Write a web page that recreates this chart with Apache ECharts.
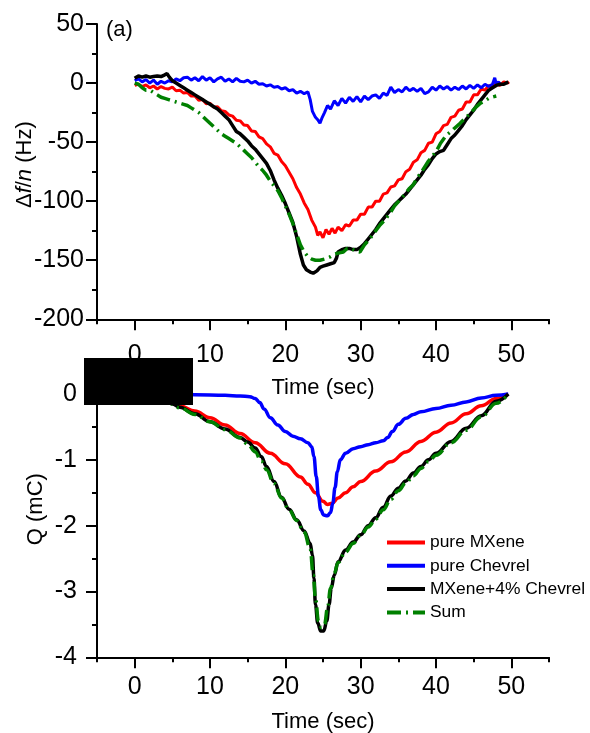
<!DOCTYPE html>
<html>
<head>
<meta charset="utf-8">
<script src="https://cdn.jsdelivr.net/npm/echarts@6/dist/echarts.min.js"></script>
<style>
  html, body { margin: 0; padding: 0; background: #fff; }
  #chart { width: 590px; height: 733px; }
</style>
</head>
<body>
<div id="chart"></div>
<script>
// ---- Panel (a): frequency shift Δf/n (Hz) vs time (s) ----
const freqMXene = [
  [0,-2],[0.5,-1],[1,-3],[1.5,-1.5],[2,-4],[2.5,-2.5],[3,-5],[3.5,-3],[4,-4.5],[4.5,-5],
  [5,-3.5],[5.5,-6.5],[6,-6],[6.5,-8.5],[7,-8],[7.5,-11],[8,-11],[8.5,-14.5],[9,-14],[9.5,-17.5],
  [10,-17],[10.5,-20.5],[11,-20],[11.5,-23.5],[12,-24],[12.5,-27],[13,-28],[13.5,-31.5],[14,-32],[14.5,-35.5],
  [15,-36],[15.5,-40.5],[16,-41],[16.5,-45.5],[17,-47],[17.5,-51.5],[18,-54],[18.5,-59.5],[19,-61],[19.5,-66.5],
  [20,-70],[20.5,-75.5],[21,-81],[21.5,-88.5],[22,-94],[22.5,-101.5],[23,-107],[23.5,-116],[24,-122],[24.3,-129],
  [24.6,-126],[25,-131],[25.4,-124],[25.8,-128],[26.2,-123],[26.6,-127],[27,-122],[27.5,-125],[28,-120],[28.5,-121],
  [29,-116],[29.5,-116],[30,-111],[30.5,-111],[31,-105],[31.5,-105],[32,-100],[32.5,-100],[33,-94],[33.5,-93],
  [34,-88],[34.5,-87],[35,-82],[35.5,-81],[36,-75],[36.5,-73],[37,-67],[37.5,-65],[38,-59],[38.5,-57],
  [39,-51],[39.5,-50],[40,-43],[40.5,-41],[41,-36],[41.5,-35],[42,-29],[42.5,-28],[43,-23],[43.5,-22],
  [44,-16],[44.5,-16],[45,-10],[45.5,-10],[46,-5],[46.5,-6],[47,-2],[47.5,-4],[48,0],[48.5,-2],
  [49,1],[49.5,0],[49.7,1]
];
const freqChevrel = [
  [0,2],[0.5,3.5],[1,1],[1.5,3],[2,0],[2.5,2.5],[3,-1],[3.5,1.5],[4,0],[4.5,2],
  [5,1],[5.5,3.5],[6,2],[6.5,4.5],[7,5],[7.5,2.5],[8,4.5],[8.5,2],[9,5.5],[9.5,2.5],
  [10,4.5],[10.5,1],[11,3.5],[11.5,5],[12,1.5],[12.5,3.5],[13,1],[13.5,4],[14,1.5],[14.5,1],
  [15,2.5],[15.5,0],[16,1.5],[16.5,-1],[17,-0.5],[17.5,-2.5],[18,-1.5],[18.5,-3.5],[19,-3],[19.5,-5],
  [20,-4],[20.5,-6.5],[21,-5.5],[21.5,-8.5],[22,-7],[22.5,-9],[23,-7.5],[23.3,-14],[23.6,-24],[24,-29],
  [24.3,-31],[24.6,-34],[24.9,-29],[25.2,-25],[25.6,-19],[26,-22],[26.5,-15],[27,-19],[27.5,-13],[28,-17],
  [28.5,-12],[29,-15.5],[29.5,-11.5],[30,-16],[30.5,-11],[31,-14],[31.5,-11],[32,-10],[32.5,-13],[33,-8.5],
  [33.5,-10.5],[34,-3.5],[34.5,-8],[35,-5.5],[35.5,-7.5],[36,-3.5],[36.5,-6.5],[37,-4.5],[37.5,-7],[38,-4.5],
  [38.5,-9],[39,-7.5],[39.5,-3.5],[40,-6],[40.5,-2.5],[41,-5],[41.5,-3],[42,-6],[42.5,-3.5],[43,-5.5],
  [43.5,-2.5],[44,-5],[44.5,-2],[45,-4.5],[45.5,-1.5],[46,-4],[46.5,-1],[47,-3],[47.5,-1],[47.8,4.5],
  [48,-1],[48.3,1],[48.5,-0.5]
];
const freqComposite = [
  [0,4],[0.5,6],[1,5],[1.5,6],[2,5],[2.5,5.5],[3,6],[3.5,5.5],[4,7],[4.3,8],
  [4.6,5],[5,2],[5.5,0],[6,-2],[6.5,-4],[7,-6],[7.5,-8],[8,-10],[8.5,-12],[9,-14],
  [9.5,-16],[10,-18],[10.5,-20],[11,-22],[11.5,-25],[12,-28],[12.5,-31],[13,-36],[13.5,-41],[14,-43],
  [14.5,-46],[15,-49],[15.5,-53],[16,-56],[16.5,-60],[17,-64],[17.5,-68],[18,-74],[18.5,-82],[19,-89],
  [19.5,-95],[20,-102],[20.5,-110],[21,-118],[21.5,-130],[22,-145],[22.4,-154],[22.8,-158],[23.3,-160],[23.7,-161],
  [24.2,-159],[24.6,-156],[25,-155],[25.5,-154],[26,-153],[26.5,-152],[26.8,-148],[27,-143],[27.5,-141],[28,-140],
  [28.5,-140],[29,-141],[29.5,-141],[30,-139],[30.5,-136],[31,-132],[31.5,-128],[32,-124],[32.5,-119],[33,-115],
  [33.5,-111],[34,-107],[34.5,-103],[35,-100],[35.5,-97],[36,-94],[36.5,-90],[37,-86],[37.5,-82],[38,-78],
  [38.5,-73],[39,-69],[39.5,-64],[40,-60],[40.5,-58],[41,-57],[41.5,-52],[42,-47],[42.5,-44],[43,-40],
  [43.5,-36],[44,-31],[44.5,-27],[45,-23],[45.5,-18],[46,-14],[46.5,-10],[47,-6],[47.5,-4],[48,-2],
  [48.5,-1],[49,-1],[49.6,1]
];
const freqSum = [
  [0,0],[0.5,-1],[1,-4],[1.5,-6],[2,-6],[2.5,-8],[3,-10],[3.5,-12],[4,-13],[4.5,-14],
  [5,-15],[5.5,-16],[6,-17],[6.5,-18],[7,-19],[7.5,-21],[8,-23],[8.5,-25],[9,-28],[9.5,-31],
  [10,-34],[10.5,-37],[11,-40],[11.5,-43],[12,-45],[12.5,-47],[13,-49],[13.5,-51],[14,-54],[14.5,-57],
  [15,-60],[15.5,-63],[16,-67],[16.5,-71],[17,-74],[17.5,-78],[18,-83],[18.5,-87],[19,-91],[19.5,-97],
  [20,-104],[20.5,-111],[21,-119],[21.5,-128],[22,-137],[22.5,-143],[23,-147],[23.5,-149],[24,-150],[24.6,-150],
  [25.2,-149],[26,-147],[26.5,-145],[27,-144],[27.7,-143],[28.2,-140],[28.7,-140],[29.3,-142],[29.9,-143],[30.5,-137],
  [31.2,-132],[32,-125],[32.6,-120],[33.2,-116],[33.9,-110],[34.5,-104],[35.2,-99],[36,-93],[36.5,-89],[37,-86],
  [37.5,-80],[37.9,-77],[38.5,-71],[39,-66],[39.5,-62],[40.1,-57],[40.6,-51],[41.4,-44],[42,-41],[42.5,-38],
  [43.2,-34],[44,-29],[44.5,-26],[45.2,-21],[45.9,-17],[46.5,-15],[47,-13],[47.4,-12],[48,-11]
];

// ---- Panel (b): charge Q (mC) vs time (s) ----
const chargeMXene = [
  [0,0],[2,-0.04],[4,-0.1],[5,-0.14],[6,-0.18],[8,-0.26],[10,-0.36],[12,-0.47],[14,-0.6],[16,-0.74],
  [18,-0.9],[20,-1.06],[22,-1.26],[23,-1.37],[24,-1.5],[25,-1.63],[25.6,-1.68],[26.2,-1.66],[27,-1.58],[28,-1.5],
  [29,-1.41],[30,-1.33],[32,-1.17],[34,-1.03],[36,-0.88],[38,-0.72],[40,-0.58],[42,-0.44],[44,-0.3],[46,-0.18],
  [48,-0.07],[49.5,0]
];
const chargeChevrel = [
  [0,0],[4,0],[8,-0.01],[12,-0.02],[14,-0.03],[15.3,-0.04],[16,-0.07],[16.6,-0.13],[17.2,-0.23],[18,-0.36],
  [19,-0.47],[20,-0.57],[21,-0.64],[22,-0.68],[23,-0.74],[23.5,-0.8],[23.8,-0.95],[24.1,-1.25],[24.4,-1.56],[24.7,-1.76],
  [25.1,-1.84],[25.6,-1.85],[26,-1.8],[26.3,-1.66],[26.6,-1.42],[26.9,-1.18],[27.3,-1.0],[28,-0.9],[29,-0.83],[30,-0.8],
  [31,-0.77],[32,-0.74],[33,-0.71],[33.6,-0.66],[34.2,-0.57],[35,-0.46],[36,-0.37],[37,-0.31],[38,-0.27],[40,-0.22],
  [42,-0.17],[44,-0.12],[46,-0.06],[48,-0.02],[49.6,0]
];
const chargeComposite = [
  [0,0],[2,-0.04],[4,-0.1],[5,-0.15],[6,-0.2],[8,-0.3],[10,-0.42],[12,-0.53],[14,-0.66],[15,-0.73],
  [16,-0.82],[16.8,-0.95],[17.5,-1.1],[18.5,-1.33],[19.5,-1.57],[20.5,-1.75],[21.5,-1.91],[22.5,-2.08],[23.3,-2.27],[23.6,-2.45],
  [23.8,-2.8],[24,-3.2],[24.3,-3.48],[24.7,-3.6],[25.1,-3.6],[25.5,-3.45],[25.8,-3.2],[26.1,-2.95],[26.5,-2.75],[27,-2.55],
  [28,-2.37],[29,-2.25],[30,-2.14],[31,-2.0],[32,-1.88],[33,-1.72],[34,-1.55],[35,-1.43],[36,-1.32],[37,-1.2],
  [38,-1.1],[39,-1.0],[40,-0.9],[42,-0.72],[44,-0.52],[46,-0.33],[48,-0.11],[49.6,0]
];
const chargeSum = [
  [0,0],[2,-0.04],[4,-0.1],[6,-0.21],[8,-0.31],[10,-0.42],[12,-0.54],[14,-0.67],[15,-0.76],[16,-0.88],
  [16.8,-1.02],[17.5,-1.15],[18.5,-1.36],[19.5,-1.58],[20.5,-1.76],[21.5,-1.92],[22.5,-2.1],[23.3,-2.35],[23.7,-2.75],[24,-3.1],
  [24.4,-3.45],[24.8,-3.55],[25.2,-3.5],[25.6,-3.25],[26,-2.95],[26.5,-2.72],[27,-2.56],[28,-2.4],[29,-2.27],[30,-2.15],
  [31,-2.02],[32,-1.9],[33,-1.76],[34,-1.6],[35,-1.47],[36,-1.35],[37,-1.24],[38,-1.13],[39,-1.03],[40,-0.93],
  [42,-0.74],[44,-0.55],[46,-0.35],[48,-0.14],[49.6,0]
];

// Series names and tick positions
const seriesNames = ['pure MXene', 'pure Chevrel', 'MXene+4% Chevrel', 'Sum'];
const timeMajorTicks = [0, 10, 20, 30, 40, 50];
const timeMinorTicks = [-5, 5, 15, 25, 35, 45, 55];
const chargeMajorTicks = [0, -1, -2, -3, -4];
const chargeMinorTicks = [0.5, -0.5, -1.5, -2.5, -3.5];

const FONT = '"Liberation Sans", Arial, sans-serif';
const INK = '#000';
const colors = ['#ff0000', '#0000ff', '#000000', '#008000'];
const sumDash = [14, 5, 2, 5];
const TICK_FONT = 25;
const TITLE_FONT = 22;

const axisLine = { show: true, onZero: false, lineStyle: { color: INK, width: 2 } };
const hiddenLine = { show: false, onZero: false };

function timeAxes(gridIndex, labelMargin, nameGap) {
  return [
    {
      type: 'value', gridIndex, min: -5, max: 55, position: 'bottom',
      axisLine,
      axisTick: { show: true, customValues: timeMajorTicks, length: 11, lineStyle: { color: INK, width: 2 } },
      axisLabel: { show: true, customValues: timeMajorTicks, fontSize: TICK_FONT, color: INK, fontFamily: FONT, margin: labelMargin },
      splitLine: { show: false },
      name: 'Time (sec)', nameLocation: 'middle', nameGap, nameMoveOverlap: false,
      nameTextStyle: { fontSize: TITLE_FONT, color: INK, fontFamily: FONT }
    },
    {
      type: 'value', gridIndex, min: -5, max: 55, position: 'bottom',
      axisLine: hiddenLine,
      axisTick: { show: true, customValues: timeMinorTicks, length: 5, lineStyle: { color: INK, width: 2 } },
      axisLabel: { show: false },
      splitLine: { show: false }
    }
  ];
}

const option = {
  animation: false,
  backgroundColor: '#fff',
  textStyle: { fontFamily: FONT },
  grid: [
    { left: 97, top: 24, width: 452, height: 295.3, containLabel: false, outerBoundsMode: 'none' },
    { left: 97, top: 361.1, width: 452, height: 296.2, containLabel: false, outerBoundsMode: 'none' }
  ],
  xAxis: [
    ...timeAxes(0, 23, 58),
    ...timeAxes(1, 17, 54)
  ],
  yAxis: [
    {
      type: 'value', gridIndex: 0, min: -200, max: 50, interval: 50, position: 'left',
      axisLine,
      axisTick: { show: true, length: 11, lineStyle: { color: INK, width: 2 } },
      minorTick: { show: true, splitNumber: 2, length: 5, lineStyle: { color: INK, width: 2 } },
      axisLabel: { fontSize: TICK_FONT, color: INK, fontFamily: FONT, margin: 13 },
      splitLine: { show: false }, minorSplitLine: { show: false },
      name: 'Δ{i|f}/{i|n} (Hz)', nameLocation: 'middle', nameGap: 61, nameMoveOverlap: false,
      nameTextStyle: {
        fontSize: TITLE_FONT, color: INK, fontFamily: FONT, padding: [0, 0, 0, 14],
        rich: { i: { fontSize: TITLE_FONT, fontStyle: 'italic', fontFamily: FONT, color: INK } }
      }
    },
    {
      type: 'value', gridIndex: 1, min: -4, max: 0.5, position: 'left',
      axisLine,
      axisTick: { show: true, customValues: chargeMajorTicks, length: 11, lineStyle: { color: INK, width: 2 } },
      axisLabel: { show: true, customValues: chargeMajorTicks, fontSize: TICK_FONT, color: INK, fontFamily: FONT, margin: 20 },
      splitLine: { show: false },
      name: 'Q (mC)', nameLocation: 'middle', nameGap: 50, nameMoveOverlap: false,
      nameTextStyle: { fontSize: TITLE_FONT, color: INK, fontFamily: FONT }
    },
    {
      type: 'value', gridIndex: 1, min: -4, max: 0.5, position: 'left',
      axisLine: hiddenLine,
      axisTick: { show: true, customValues: chargeMinorTicks, length: 5, lineStyle: { color: INK, width: 2 } },
      axisLabel: { show: false },
      splitLine: { show: false }
    }
  ],
  legend: {
    left: 385, top: 534, orient: 'vertical', padding: 0,
    itemWidth: 38, itemHeight: 14, itemGap: 6.3,
    data: seriesNames,
    itemStyle: { opacity: 0 },
    lineStyle: { width: 4 },
    textStyle: { fontSize: 17.4, lineHeight: 17, color: INK, fontFamily: FONT }
  },
  series: [
    // panel (a)
    { name: seriesNames[0], type: 'line', xAxisIndex: 0, yAxisIndex: 0, data: freqMXene, symbol: 'none',
      lineStyle: { color: colors[0], width: 3 }, itemStyle: { color: colors[0] } },
    { name: seriesNames[1], type: 'line', xAxisIndex: 0, yAxisIndex: 0, data: freqChevrel, symbol: 'none',
      lineStyle: { color: colors[1], width: 3 }, itemStyle: { color: colors[1] } },
    { name: seriesNames[2], type: 'line', xAxisIndex: 0, yAxisIndex: 0, data: freqComposite, symbol: 'none',
      lineStyle: { color: colors[2], width: 3.5 }, itemStyle: { color: colors[2] } },
    { name: seriesNames[3], type: 'line', xAxisIndex: 0, yAxisIndex: 0, data: freqSum, symbol: 'none',
      lineStyle: { color: colors[3], width: 3.5, type: sumDash }, itemStyle: { color: colors[3] } },
    // panel (b)
    { name: seriesNames[0], type: 'line', xAxisIndex: 2, yAxisIndex: 1, data: chargeMXene, symbol: 'none',
      smooth: 0.4, smoothMonotone: 'x',
      lineStyle: { color: colors[0], width: 3.5 }, itemStyle: { color: colors[0] } },
    { name: seriesNames[1], type: 'line', xAxisIndex: 2, yAxisIndex: 1, data: chargeChevrel, symbol: 'none',
      smooth: 0.4, smoothMonotone: 'x',
      lineStyle: { color: colors[1], width: 3.5 }, itemStyle: { color: colors[1] } },
    { name: seriesNames[2], type: 'line', xAxisIndex: 2, yAxisIndex: 1, data: chargeComposite, symbol: 'none',
      smooth: 0.4, smoothMonotone: 'x',
      lineStyle: { color: colors[2], width: 3.5 }, itemStyle: { color: colors[2] } },
    { name: seriesNames[3], type: 'line', xAxisIndex: 2, yAxisIndex: 1, data: chargeSum, symbol: 'none',
      smooth: 0.4, smoothMonotone: 'x',
      lineStyle: { color: colors[3], width: 3.5, type: sumDash }, itemStyle: { color: colors[3] } }
  ],
  graphic: [
    { type: 'text', left: 106, top: 19, z: 100,
      style: { text: '(a)', fontSize: 22, fontFamily: FONT, fill: INK } },
    { type: 'rect', left: 84, top: 358, z: 100,
      shape: { width: 109, height: 47 }, style: { fill: '#000' } }
  ]
};

const chart = echarts.init(document.getElementById('chart'), null, { renderer: 'canvas' });
chart.setOption(option);
</script>
</body>
</html>
